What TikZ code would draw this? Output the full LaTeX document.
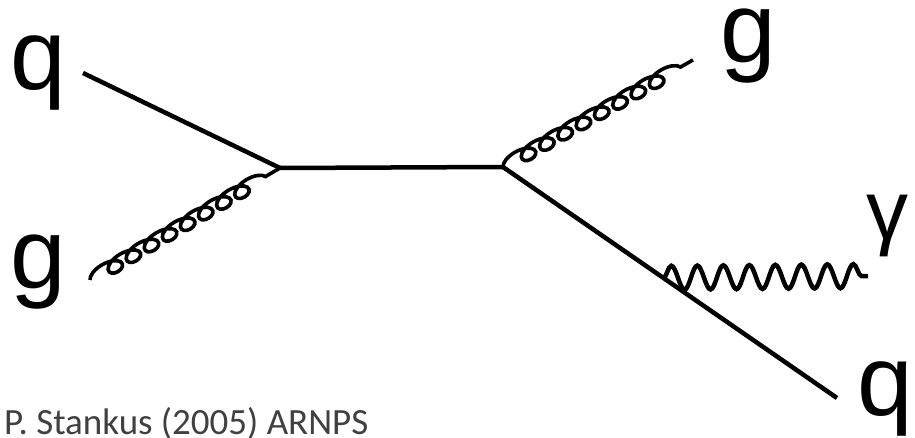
\documentclass[tikz,border=0pt]{standalone}
\usepackage{fontspec}
\setmainfont{Liberation Sans}
\newfontfamily\creditfont{Carlito}
\usepackage{tikz}
\usetikzlibrary{decorations.pathmorphing,calc,positioning}
\tikzset{
  quarkline/.style={draw, line width=4.5pt},
  gluonline/.style={draw, line width=3.6pt, decorate, decoration={coil, amplitude=7pt, segment length=21pt, aspect=1.8}},
  photonline/.style={draw, line width=4.5pt, decorate, decoration={snake, amplitude=12pt, segment length=26pt}},
  partlabel/.style={inner sep=0pt, anchor=base west, font=\fontsize{100}{110}\selectfont},
  gammalabel/.style={inner sep=0pt, anchor=base west, font=\fontsize{84}{90}\selectfont},
  creditlabel/.style={inner sep=0pt, anchor=base west, text=black!75, font=\creditfont\fontsize{37}{40}\selectfont}
}

\begin{document}
\begin{tikzpicture}[x=1pt, y=-1pt]
\useasboundingbox (0,0) rectangle (915,438);
% vertices
\coordinate (v1) at (280,168);
\coordinate (v2) at (503,167);
% free ends of the legs
\coordinate (qin) at (83,73);
\coordinate (gin) at (90,280);
\coordinate (gout) at (693,60);
\coordinate (qout) at (837,398);
\coordinate (gamstart) at ($(v2)!0.48!(qout)$);
\coordinate (gamend) at (868,276);
% labels
\node[partlabel] (qa) at (10,90) {q};
\node[partlabel] (ga) at (10,288) {g};
\node[partlabel] (gb) at (720,63) {g};
\node[partlabel] (qb) at (857,415) {q};
\node[gammalabel] (gam) at (866,240) {γ};
\node[creditlabel] (credit) at (4,434) {P. Stankus (2005) ARNPS};
% lines
\draw[quarkline] (qin) -- (v1);
\draw[gluonline] (gin) -- (v1);
\draw[quarkline] (v1) -- (v2);
\draw[gluonline] (v2) -- (gout);
\draw[quarkline] (v2) -- (qout);
\draw[photonline] (gamstart) -- (gamend);
\end{tikzpicture}
\end{document}
